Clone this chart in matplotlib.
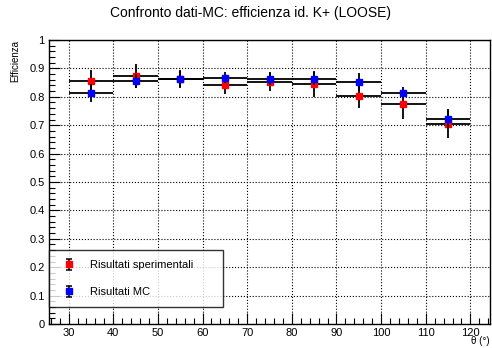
import numpy as np
import matplotlib.pyplot as plt
from matplotlib.ticker import MultipleLocator

plt.rcParams['font.family'] = ['Liberation Sans', 'DejaVu Sans']

# bin centres (theta, degrees) and half widths
theta = [35, 45, 55, 65, 75, 85, 95, 105, 115]
half_w = [5, 5, 5, 5, 5, 5, 5, 5, 5]

# experimental results
eff_exp = [0.855, 0.872, 0.862, 0.843, 0.853, 0.845, 0.804, 0.773, 0.704]
err_exp = [0.040, 0.042, 0.030, 0.032, 0.032, 0.045, 0.042, 0.050, 0.050]

# MC results
eff_mc = [0.812, 0.856, 0.864, 0.868, 0.864, 0.864, 0.853, 0.813, 0.723]
err_mc = [0.032, 0.026, 0.030, 0.020, 0.022, 0.023, 0.032, 0.020, 0.033]

fig = plt.figure(figsize=(4.92, 3.48), dpi=100)
ax = fig.add_axes([0.0996, 0.069, 0.8964, 0.816])

ax.errorbar(theta, eff_exp, yerr=err_exp, xerr=half_w, fmt='s', color='red',
            ms=5, mec='red', ecolor='black', elinewidth=1.3, capsize=0, zorder=3)
ax.errorbar(theta, eff_mc, yerr=err_mc, xerr=half_w, fmt='s', color='blue',
            ms=5, mec='blue', ecolor='black', elinewidth=1.3, capsize=0, zorder=4)

# legend proxies: marker with vertical error bar only
h_exp = ax.errorbar([np.nan], [np.nan], yerr=[0.1], fmt='s', color='red', ms=5,
                    mec='red', ecolor='black', elinewidth=1.1, capsize=2.5,
                    capthick=1.1, label='Risultati sperimentali')
h_mc = ax.errorbar([np.nan], [np.nan], yerr=[0.1], fmt='s', color='blue', ms=5,
                   mec='blue', ecolor='black', elinewidth=1.1, capsize=2.5,
                   capthick=1.1, label='Risultati MC')

ax.set_xlim(25.6, 124.4)
ax.set_ylim(0, 1)
ax.xaxis.set_major_locator(MultipleLocator(10))
ax.xaxis.set_minor_locator(MultipleLocator(2))
ax.yaxis.set_minor_locator(MultipleLocator(0.02))
ax.set_yticks(np.arange(0, 1.01, 0.1))
ax.set_yticklabels(['0', '0.1', '0.2', '0.3', '0.4', '0.5', '0.6', '0.7', '0.8', '0.9', '1'])
ax.tick_params(which='both', direction='in', top=False, right=False,
               labelsize=8, width=0.8)
ax.tick_params(which='major', length=8, pad=3)
ax.tick_params(which='minor', length=4)
ax.grid(True, which='major', linestyle=':', color='black', linewidth=0.8)
for s in ax.spines.values():
    s.set_linewidth(1.0)

fig.text(0.51, 0.962, 'Confronto dati-MC: efficienza id. K+ (LOOSE)',
         ha='center', va='center', fontsize=10)
fig.text(0.03, 0.885, 'Efficienza', rotation=90, ha='center', va='top', fontsize=7)
fig.text(0.996, 0.005, 'θ (°)', ha='right', va='bottom', fontsize=7)

leg = ax.legend(handles=[h_exp, h_mc], loc='lower left',
                bbox_to_anchor=(0.0, 0.06, 0.395, 0.19), mode='expand',
                fontsize=8, frameon=True, fancybox=False, edgecolor='black',
                borderpad=0.9, labelspacing=1.5, handlelength=1.8,
                handletextpad=1.0, borderaxespad=0)
leg.get_frame().set_linewidth(1.0)

fig.savefig('out.png', dpi=100)
